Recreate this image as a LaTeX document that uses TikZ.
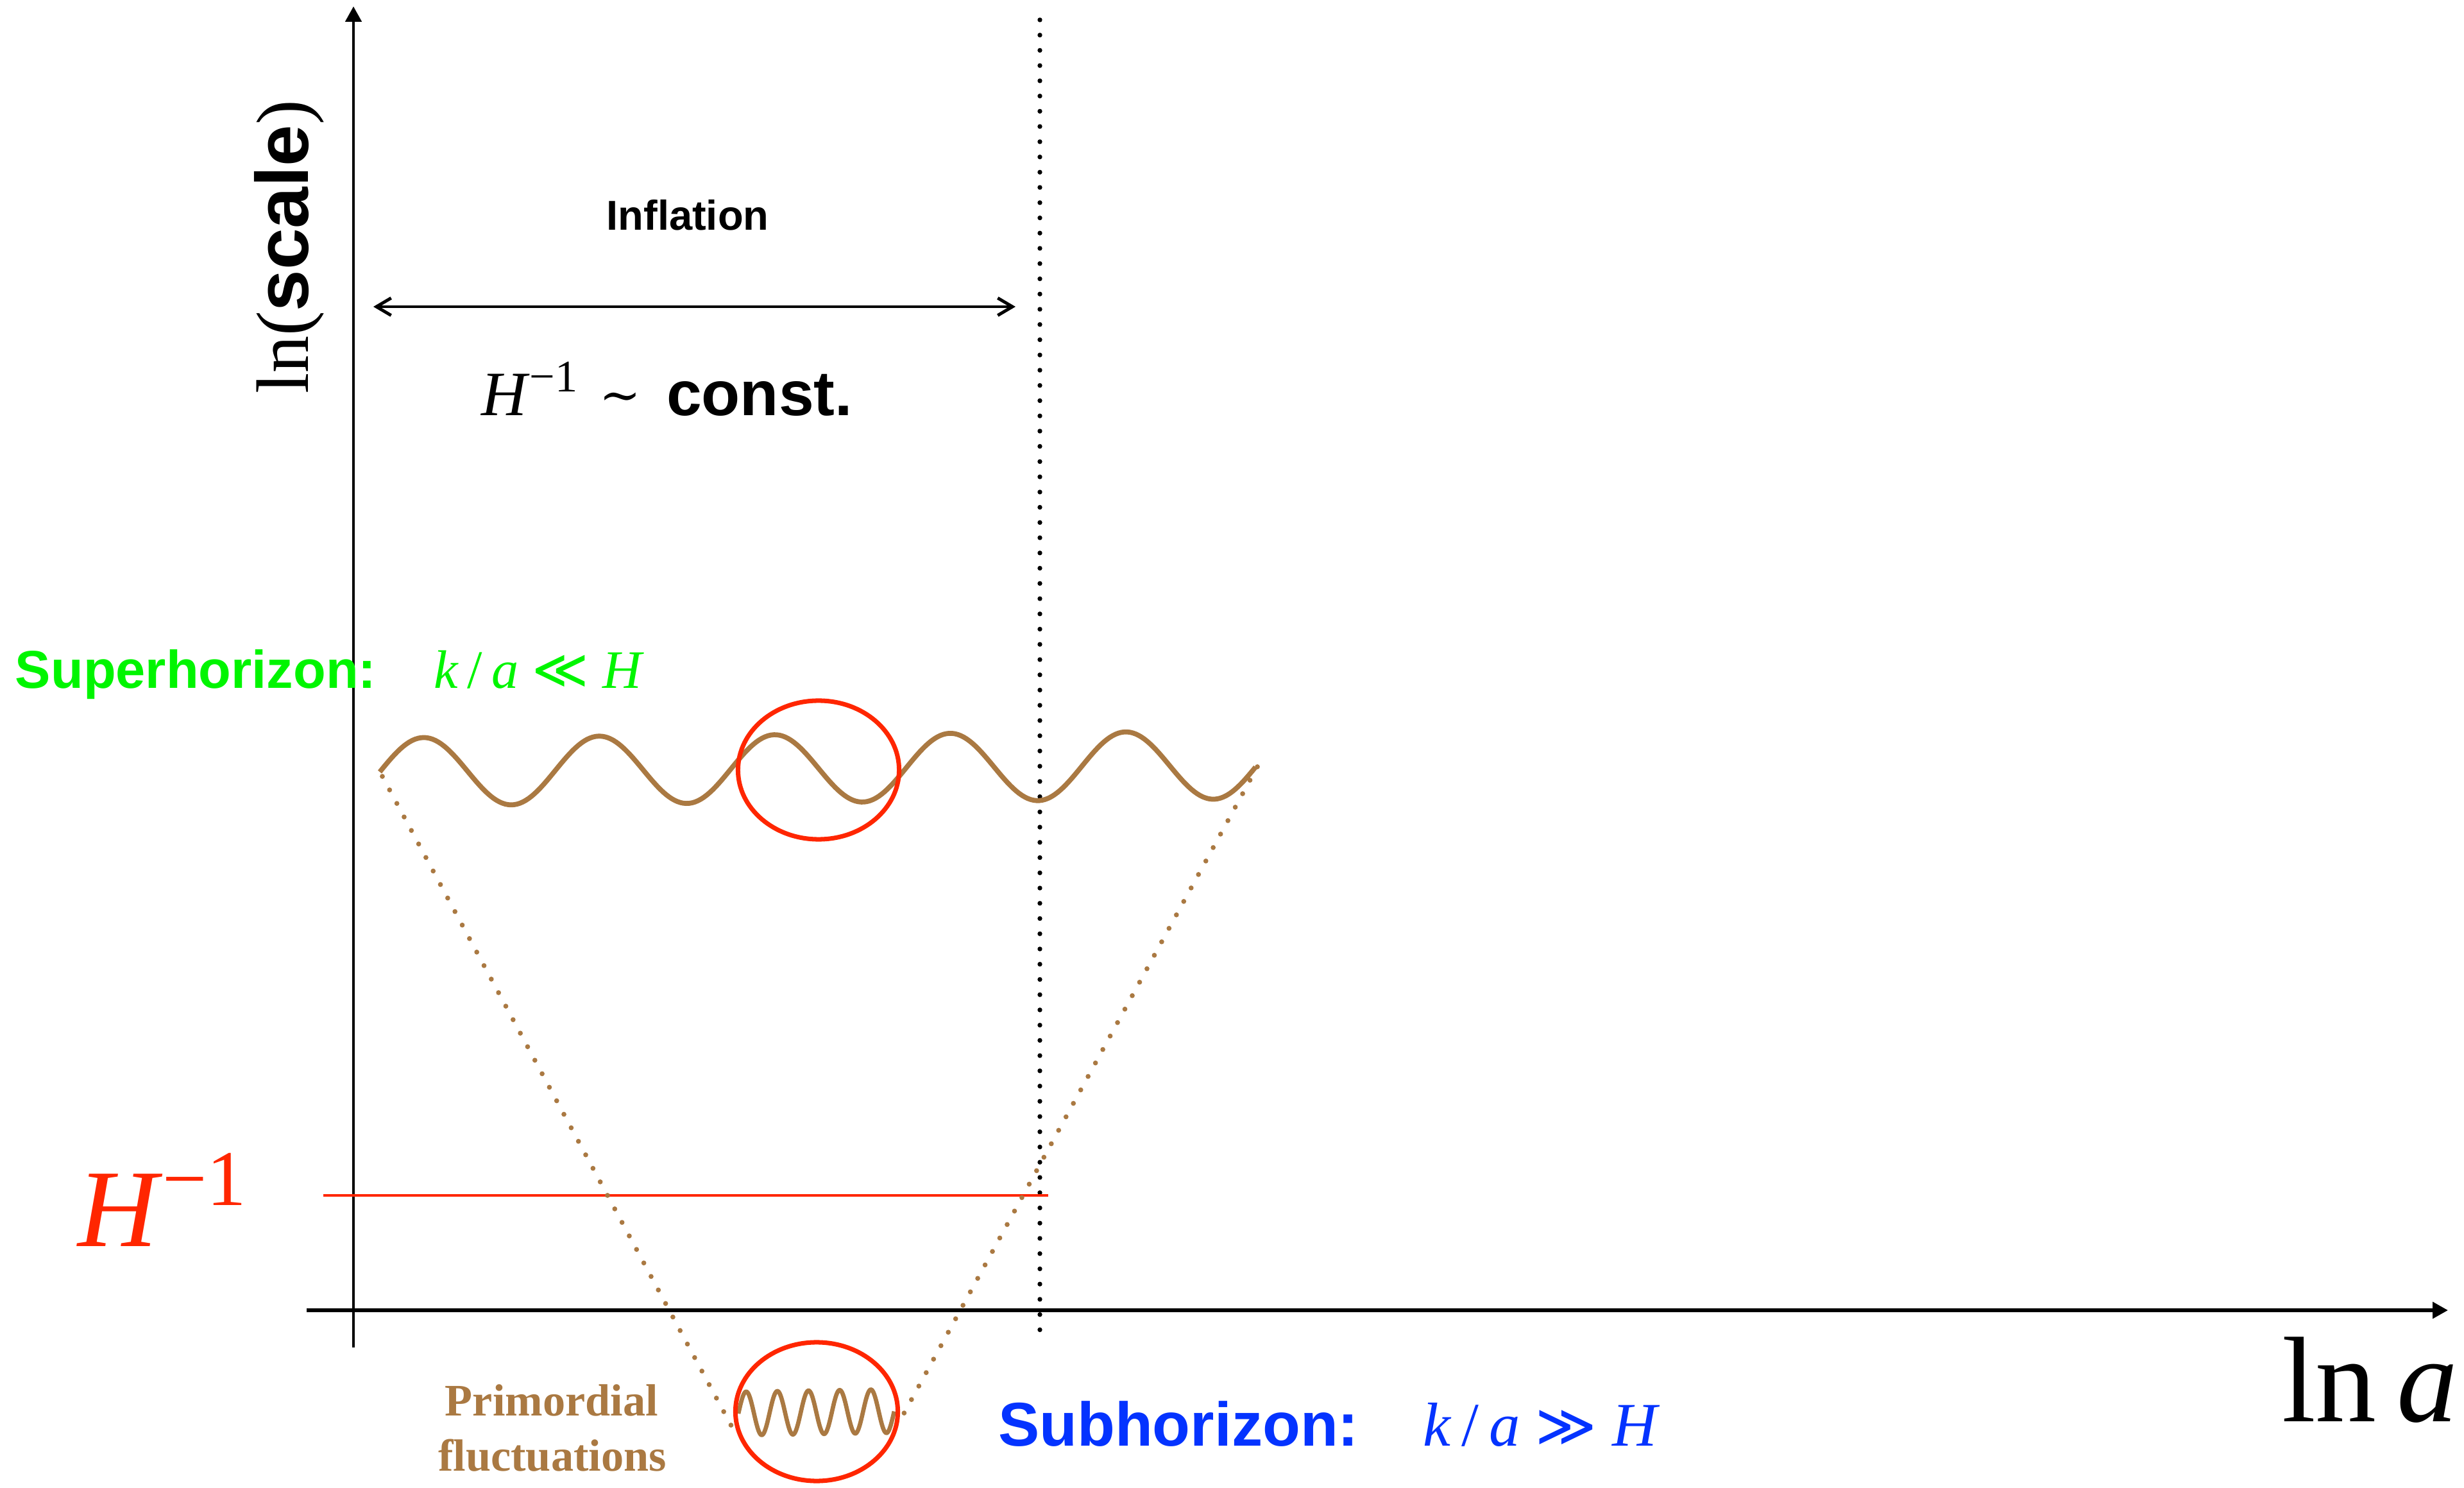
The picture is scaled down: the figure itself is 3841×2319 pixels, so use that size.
\documentclass[tikz,border=0pt]{standalone}
\usepackage{fontspec}
\setmainfont{Liberation Serif}
\setsansfont{Liberation Sans}
\newfontfamily\symfont{DejaVu Serif}
\newfontfamily\relfont{DejaVu Sans}
\usetikzlibrary{arrows.meta}
\definecolor{hred}{RGB}{255,38,0}
\definecolor{hgreen}{RGB}{0,245,0}
\definecolor{hblue}{RGB}{4,51,255}
\definecolor{hbrown}{RGB}{170,121,66}
\tikzset{
  axisline/.style={line width=1.45pt, -{Triangle[length=6.8pt,width=7.1pt]}},
  blackdots/.style={line width=2.1pt, line cap=round, dash pattern=on 0pt off 6.75pt},
  browndots/.style={hbrown, line width=2.2pt, line cap=round, dash pattern=on 0pt off 6.8pt},
  bigwave/.style={hbrown, line width=2.2pt},
  smallwave/.style={hbrown, line width=1.9pt},
  horizon/.style={hred, line width=2pt},
  lbl/.style={inner sep=0pt, outer sep=0pt},
}
\begin{document}
\begin{tikzpicture}[x=0.01cm, y=-0.01cm]
\path[use as bounding box] (0,0) rectangle (3841,2319);

% axes
\coordinate (ybot) at (551,2100);
\coordinate (ytop) at (551,10);
\coordinate (xl) at (478,2042);
\coordinate (xr) at (3816,2042);
\draw[axisline, line width=1.35pt] (ybot) -- (ytop);
\draw[axisline, line width=1.6pt] (xl) -- (xr);

% end of inflation
\coordinate (endtop) at (1621,31);
\coordinate (endbot) at (1621,2075);
\draw[blackdots] (endtop) -- (endbot);

% inflation arrow
\coordinate (infl) at (582,478);
\coordinate (infr) at (1583,478);
\draw[line width=1.4pt, {Straight Barb[length=6.5pt,width=7.7pt]}-{Straight Barb[length=6.5pt,width=7.7pt]}] (infl) -- (infr);
\node[lbl, anchor=base] (inflation) at (1072,359) {\fontsize{18.5}{20}\selectfont\sffamily\bfseries Inflation};
\node[lbl, anchor=base west] (const) at (750,648) {\fontsize{28}{30}\selectfont\textit{H}\raisebox{10.8pt}{\fontsize{20}{22}\selectfont −1}\hspace{0.35em}\raisebox{1.5pt}{\symfont\fontsize{22}{24}\selectfont ∼}\hspace{0.4em}\textsf{\bfseries const.}};

% axis labels
\node[lbl, anchor=base, rotate=90] (ylabel) at (480,385) {\fontsize{33}{35}\selectfont ln(\textsf{\bfseries scale})};
\node[lbl, anchor=base west] (xlabel) at (3557,2215) {\fontsize{54}{56}\selectfont ln\,\textit{a}};

% Hubble radius
\coordinate (hl) at (504,1863);
\coordinate (hr) at (1634,1863);
\draw[hred, line width=1.35pt] (hl) -- (hr);
\node[lbl, anchor=base west, text=hred] (hlabel) at (121,1942) {\fontsize{49}{51}\selectfont\textit{H}\raisebox{18.2pt}{\fontsize{35}{37}\selectfont −1}};

% big (superhorizon) wave
\draw[bigwave] plot[domain=0:1, samples=301] ({592+1368*\x}, {1203-11*\x-53*sin(1800*\x)});
\coordinate (bigl) at (596,1210);
\coordinate (bigr) at (1960,1195);

% small (subhorizon) wave
\draw[smallwave] plot[domain=0:1, samples=251] ({1151+243*\x}, {2203-4*\x-34*sin(1800*\x)});
\coordinate (smalll) at (1140,2222);
\coordinate (smallr) at (1404,2212);

% cone of dotted lines
\draw[browndots] (bigl) -- (smalll);
\draw[browndots] (bigr) -- (smallr);

% horizon circles
\coordinate (c1) at (1276,1200);
\coordinate (c2) at (1273,2200);
\draw[horizon] (c1) ellipse [x radius=1.255cm, y radius=1.08cm];
\draw[horizon] (c2) ellipse [x radius=1.265cm, y radius=1.08cm];

% labels
\node[lbl, anchor=base west, text=hgreen] (super) at (24,1073) {\fontsize{23.6}{25}\selectfont\sffamily\bfseries Superhorizon:};
\node[lbl, anchor=base west, text=hgreen] (superm) at (676,1073) {\fontsize{24}{26}\selectfont\textit{k}\,/\,\textit{a} {\relfont\fontsize{24}{26}\selectfont ≪} \textit{H}};
\node[lbl, anchor=base west, text=hblue] (sub) at (1556,2253) {\fontsize{27.4}{29}\selectfont\sffamily\bfseries Subhorizon:};
\node[lbl, anchor=base west, text=hblue] (subm) at (2218,2253) {\fontsize{27.5}{29}\selectfont\textit{k}\,/\,\textit{a} {\relfont\fontsize{26}{28}\selectfont ≫} \textit{H}};
\node[lbl, anchor=base, text=hbrown] (prim1) at (860,2206) {\fontsize{20}{22}\selectfont\bfseries Primordial};
\node[lbl, anchor=base, text=hbrown] (prim2) at (861,2292) {\fontsize{20}{22}\selectfont\bfseries fluctuations};
\end{tikzpicture}
\end{document}
